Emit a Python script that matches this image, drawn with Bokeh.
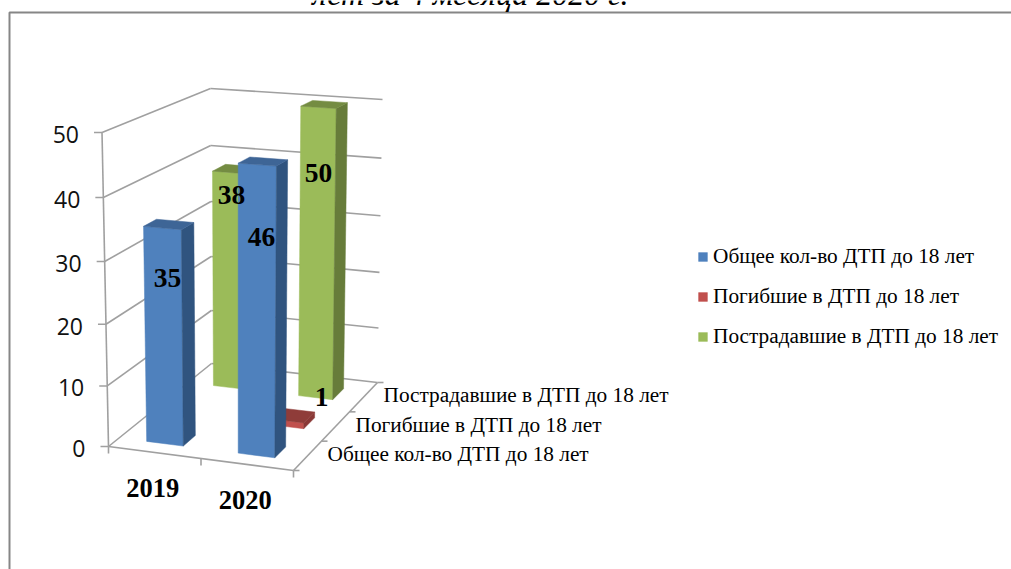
from bokeh.plotting import figure
from bokeh.models import Legend, LegendItem, Range1d
from bokeh.core.properties import value
from bokeh.embed import file_html
from bokeh.resources import INLINE

# --- data ---
years = ["2019", "2020"]
series = ["Общее кол-во ДТП до 18 лет", "Погибшие в ДТП до 18 лет", "Пострадавшие в ДТП до 18 лет"]
total = [35, 46]
killed = [None, 1]
injured = [38, 50]
z_ticks = [0, 10, 20, 30, 40, 50]
title_text = "лет за 4 месяца 2020 г."

face = ["#4F81BD", "#C0504D", "#9BBB59"]
side = ["#30547F", "#8A3836", "#677C3A"]
top = ["#3E6596", "#8F3C39", "#748C42"]
GRID = "#A0A0A0"
SERIF = value("Liberation Serif")

W, H = 1011, 569
p = figure(width=W, height=H, output_backend="svg", toolbar_location=None,
           x_range=Range1d(0, W), y_range=Range1d(H, 0), margin=(0, 0, 0, 0),
           min_border=0, outline_line_color=None, background_fill_color="white",
           border_fill_color="white")
p.axis.visible = False
p.grid.visible = False

# Projection of the 3-D box: screen position of its eight corners
C = {"flb": (108, 446), "frb": (293, 470), "blb": (211, 363), "brb": (377, 382),
     "flt": (101.5, 132), "frt": (296, 146), "blt": (210, 88), "brt": (382, 99)}
ZMAX = z_ticks[-1]


def proj(u, v, z):
    t = z / ZMAX
    t = 0.955 * t + 0.045 * t * t
    out = []
    for i in (0, 1):
        b = (C["flb"][i] * (1 - u) + C["frb"][i] * u) * (1 - v) + (C["blb"][i] * (1 - u) + C["brb"][i] * u) * v
        a = (C["flt"][i] * (1 - u) + C["frt"][i] * u) * (1 - v) + (C["blt"][i] * (1 - u) + C["brt"][i] * u) * v
        out.append(b * (1 - t) + a * t)
    return out


def seg(a, b):
    p.line([a[0], b[0]], [a[1], b[1]], line_color=GRID, line_width=1.6)


# walls
for z in z_ticks:
    seg(proj(0, 1, z), proj(1, 1, z))
    seg(proj(0, 0, z), proj(0, 1, z))
    a = proj(0, 0, z)
    seg((a[0] - 8, a[1]), a)
seg(proj(0, 0, 0), proj(0, 0, ZMAX))
seg(proj(0, 0, 0), proj(1, 0, 0))
seg(proj(1, 0, 0), proj(1, 1, 0))
for i in range(len(years) + 1):
    a = proj(i / len(years), 0, 0)
    seg(a, (a[0], a[1] + 7))
for i in range(len(series) + 1):
    a = proj(1, i / len(series), 0)
    seg(a, (a[0] + 6, a[1]))

# bars, painted from the back row to the front row
rows = [total, killed, injured]
HU, HV = 0.1, 0.0625
legend_r = {}
for s in (2, 1, 0):
    for c in range(len(years)):
        val = rows[s][c]
        if val is None:
            continue
        uc = (c + 0.5) / len(years)
        vc = (s + 0.5) / len(series)
        u0, u1, v0, v1 = uc - HU, uc + HU, vc - HV, vc + HV
        quads = [([(u0, v0, 0), (u1, v0, 0), (u1, v0, val), (u0, v0, val)], face[s]),
                 ([(u1, v0, 0), (u1, v1, 0), (u1, v1, val), (u1, v0, val)], side[s]),
                 ([(u0, v0, val), (u1, v0, val), (u1, v1, val), (u0, v1, val)], top[s])]
        for pts, col in quads:
            xy = [proj(*q) for q in pts]
            r = p.patch([q[0] for q in xy], [q[1] for q in xy], fill_color=col,
                        line_color=col, line_width=0.5)
            if col == face[s] and s not in legend_r:
                legend_r[s] = r

# y tick labels
for z in z_ticks:
    a = proj(0, 0, z)
    p.text([a[0] - 23], [a[1] + 2], text=[str(z)], text_font=value("Open Sans"), text_font_size="23px",
           text_color="#111111", text_align="right", text_baseline="middle")

# category labels
for i, y in enumerate(years):
    a = proj((i + 0.5) / len(years), 0, 0)
    p.text([a[0] - 2], [a[1] + 35], text=[y], text_font=SERIF, text_font_size="26.5px",
           text_font_style="bold", text_color="black", text_align="center", text_baseline="middle")

# depth labels
for i, s in enumerate(series):
    a = proj(1, (i + 0.5) / len(series), 0)
    p.text([a[0] + 20], [a[1] - 2], text=[s], text_font=SERIF, text_font_size="21.3px",
           text_color="black", text_align="left", text_baseline="middle")

# value labels
LBL = {(0, 0): (167, 277), (0, 1): (261, 236), (2, 0): (231, 194), (2, 1): (318, 172), (1, 1): (321, 396)}
for (s, c), (x, y) in LBL.items():
    p.text([x], [y], text=[str(rows[s][c])], text_font=SERIF, text_font_size="27.5px", text_font_style="bold",
           text_color="black", text_align="center", text_baseline="middle")

# frame and cut-off heading
p.line([9, 9, W], [H, 12, 12], line_color="#868686", line_width=2)
p.text([470], [-7], text=[title_text], text_font=SERIF, text_font_size="32px", text_font_style="italic",
       text_color="black", text_align="center", text_baseline="alphabetic")

leg = Legend(items=[LegendItem(label=series[i], renderers=[legend_r[i]]) for i in range(3)],
             location=(697, H - 349), orientation="vertical", background_fill_alpha=0,
             border_line_color=None, padding=0, margin=0, spacing=15, glyph_width=11, glyph_height=11,
             label_standoff=5, label_text_font="Liberation Serif", label_text_font_size="21.3px",
             label_text_color="black")
p.add_layout(leg, "center")

open("out.html", "w").write(file_html(p, INLINE))
